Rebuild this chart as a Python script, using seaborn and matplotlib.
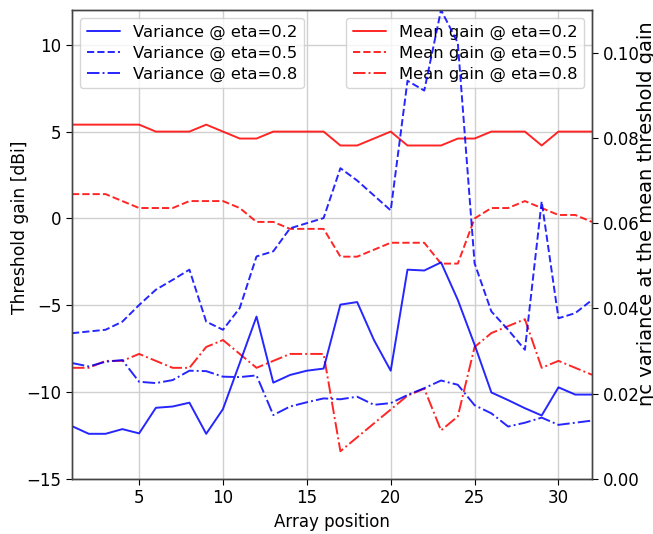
import matplotlib
matplotlib.use("Agg")
import matplotlib.pyplot as plt
import seaborn as sns
import pandas as pd

# Array positions along the aperture
positions = list(range(1, 33))

# Mean threshold gain [dBi] per array position
mean_gain_02 = [5.4, 5.4, 5.4, 5.4, 5.4, 5.0, 5.0, 5.0, 5.4, 5.0, 4.6, 4.6, 5.0, 5.0, 5.0, 5.0,
                4.2, 4.2, 4.6, 5.0, 4.2, 4.2, 4.2, 4.6, 4.6, 5.0, 5.0, 5.0, 4.2, 5.0, 5.0, 5.0]
mean_gain_05 = [1.4, 1.4, 1.4, 1.0, 0.6, 0.6, 0.6, 1.0, 1.0, 1.0, 0.6, -0.2, -0.2, -0.6, -0.6, -0.6,
                -2.2, -2.2, -1.8, -1.4, -1.4, -1.4, -2.6, -2.6, 0.0, 0.6, 0.6, 1.0, 0.6, 0.2, 0.2, -0.2]
mean_gain_08 = [-8.6, -8.6, -8.2, -8.2, -7.8, -8.2, -8.6, -8.6, -7.4, -7.0, -7.8, -8.6, -8.2, -7.8, -7.8, -7.8,
                -13.4, -12.6, -11.8, -11.0, -10.2, -9.8, -12.2, -11.4, -7.4, -6.6, -6.2, -5.8, -8.6, -8.2, -8.6, -9.0]

# Efficiency variance at the mean threshold gain
var_02 = [0.0124, 0.0106, 0.0106, 0.0117, 0.0107, 0.0167, 0.0170, 0.0179, 0.0106, 0.0164, 0.0272, 0.0381,
          0.0226, 0.0244, 0.0254, 0.0259, 0.0409, 0.0415, 0.0326, 0.0254, 0.0491, 0.0489, 0.0508, 0.0420,
          0.0315, 0.0203, 0.0185, 0.0166, 0.0149, 0.0215, 0.0198, 0.0198]
var_05 = [0.0342, 0.0346, 0.0350, 0.0369, 0.0408, 0.0444, 0.0467, 0.0491, 0.0369, 0.0350, 0.0401, 0.0522,
          0.0534, 0.0588, 0.0600, 0.0612, 0.0729, 0.0700, 0.0665, 0.0630, 0.0934, 0.0911, 0.1100, 0.1023,
          0.0506, 0.0393, 0.0350, 0.0303, 0.0651, 0.0377, 0.0389, 0.0420]
var_08 = [0.0272, 0.0264, 0.0275, 0.0279, 0.0228, 0.0225, 0.0232, 0.0254, 0.0253, 0.0240, 0.0239, 0.0243,
          0.0150, 0.0170, 0.0180, 0.0189, 0.0187, 0.0193, 0.0174, 0.0178, 0.0197, 0.0213, 0.0231, 0.0221,
          0.0173, 0.0154, 0.0123, 0.0132, 0.0144, 0.0127, 0.0132, 0.0137]

etas = ["0.2", "0.5", "0.8"]
styles = ["-", "--", "-."]

sns.set_style("ticks")
plt.rcParams["font.family"] = ["DejaVu Sans"]
plt.rcParams.update({"text.color": "black", "axes.labelcolor": "black",
                     "xtick.color": "black", "ytick.color": "black"})

fig = plt.figure(figsize=(6.53, 5.34), dpi=100)
ax = fig.add_axes([72 / 653, 1 - 479 / 534, 520 / 653, 469 / 534])
ax2 = ax.twinx()

for eta, ls, vals in zip(etas, styles, [mean_gain_02, mean_gain_05, mean_gain_08]):
    df = pd.DataFrame({"pos": positions, "val": vals})
    sns.lineplot(data=df, x="pos", y="val", ax=ax, color="red", alpha=0.85,
                 linestyle=ls, linewidth=1.4, label=f"Mean gain @ eta={eta}")

for eta, ls, vals in zip(etas, styles, [var_02, var_05, var_08]):
    df = pd.DataFrame({"pos": positions, "val": vals})
    sns.lineplot(data=df, x="pos", y="val", ax=ax2, color="blue", alpha=0.85,
                 linestyle=ls, linewidth=1.4, label=f"Variance @ eta={eta}")

ax.set_xlim(1, 32)
ax.set_ylim(-15, 12)
ax2.set_ylim(0, 0.11)
ax.set_xticks([5, 10, 15, 20, 25, 30])
ax.set_yticks([-15, -10, -5, 0, 5, 10])
ax2.set_yticks([0.0, 0.02, 0.04, 0.06, 0.08, 0.10])
ax2.yaxis.set_major_formatter(matplotlib.ticker.FormatStrFormatter("%.2f"))

ax.grid(True, color="#d0d0d0", linewidth=1.0)
ax2.grid(False)

for a in (ax, ax2):
    a.tick_params(labelsize=12, length=4, color="black")
    for s in a.spines.values():
        s.set_color("#444444")
        s.set_linewidth(1.0)

ax.set_xlabel("Array position", fontsize=12)
ax.set_ylabel("Threshold gain [dBi]", fontsize=12.3)
ax.yaxis.set_label_coords(-0.082, 0.537)
ax2.set_ylabel("ηc variance at the mean threshold gain", fontsize=14)
ax2.yaxis.set_label_coords(1.087, 0.566)

ax.legend(loc="upper right", fontsize=11.8, framealpha=0.8, labelspacing=0.35)
ax2.legend(loc="upper left", fontsize=11.8, framealpha=0.8, labelspacing=0.35)

fig.savefig("out.png", dpi=100)
